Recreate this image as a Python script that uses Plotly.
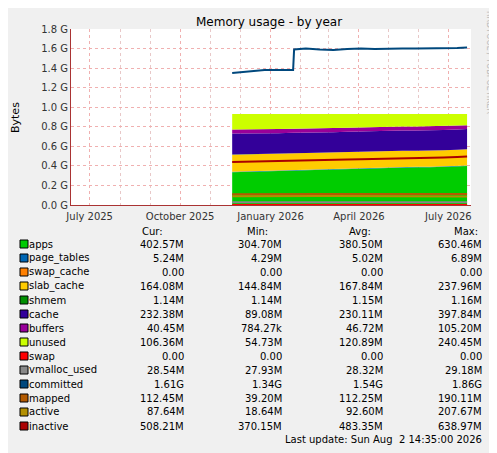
import plotly.graph_objects as go

# sample dates (approx every 2 weeks), values in MB unless noted
dates = ["2025-11-23", "2025-12-12", "2025-12-26", "2026-01-09", "2026-01-24", "2026-01-25",
         "2026-02-06", "2026-02-20", "2026-03-06", "2026-03-20", "2026-04-03", "2026-04-17",
         "2026-05-01", "2026-05-15", "2026-05-29", "2026-06-12", "2026-06-26", "2026-07-10", "2026-07-20"]
apps = [335, 340, 345, 350, 355, 355, 360, 365, 365, 370, 375, 375, 380, 385, 385, 385, 390, 395, 400]
page_tables = [5, 5, 5, 5, 5, 5, 5, 5, 5, 5, 5, 5, 5, 5, 5, 5, 5, 5, 5]
swap_cache = [0] * 19
slab_cache = [175, 172, 170, 168, 168, 168, 167, 166, 166, 165, 165, 165, 165, 165, 165, 165, 164, 164, 164]
shmem = [1] * 19
cache = [215, 213, 212, 211, 210, 210, 209, 208, 208, 207, 207, 206, 206, 205, 205, 206, 207, 207, 207]
buffers = [40, 40, 41, 41, 41, 41, 42, 42, 42, 42, 42, 42, 42, 42, 42, 42, 41, 40, 38]
unused = [159, 160, 156, 154, 150, 150, 147, 144, 144, 141, 136, 137, 132, 128, 128, 127, 123, 119, 116]
swap = [0] * 19
vmalloc_used = [28.5] * 19
committed = [1350, 1370, 1380, 1380, 1380, 1590, 1600, 1590, 1585, 1595, 1600, 1595, 1600, 1600, 1600, 1600, 1600, 1605, 1610]
mapped = [110, 112, 113, 112, 112, 112, 113, 112, 112, 112, 112, 113, 112, 112, 112, 112, 112, 112, 112]
active = [90, 92, 93, 92, 92, 92, 93, 92, 92, 92, 93, 92, 92, 92, 92, 92, 90, 88, 88]
inactive = [440, 445, 450, 452, 455, 455, 458, 460, 462, 465, 468, 470, 475, 478, 480, 482, 485, 490, 495]

names = ["apps", "page_tables", "swap_cache", "slab_cache", "shmem", "cache", "buffers", "unused",
         "swap", "vmalloc_used", "committed", "mapped", "active", "inactive"]
colors = ["#00CC00", "#0066B3", "#FF8000", "#FFCC00", "#008F00", "#330099", "#990099", "#CCFF00",
          "#FF0000", "#888888", "#00487D", "#B35A00", "#B38F00", "#AA0000"]
cur = ["402.57M", "5.24M", "0.00", "164.08M", "1.14M", "232.38M", "40.45M", "106.36M", "0.00", "28.54M", "1.61G", "112.45M", "87.64M", "508.21M"]
mins = ["304.70M", "4.29M", "0.00", "144.84M", "1.14M", "89.08M", "784.27k", "54.73M", "0.00", "27.93M", "1.34G", "39.20M", "18.64M", "370.15M"]
avgs = ["380.50M", "5.02M", "0.00", "167.84M", "1.15M", "230.11M", "46.72M", "120.89M", "0.00", "28.32M", "1.54G", "112.25M", "92.60M", "483.35M"]
maxs = ["630.46M", "6.89M", "0.00", "237.96M", "1.16M", "397.84M", "105.20M", "240.45M", "0.00", "29.18M", "1.86G", "190.11M", "207.67M", "638.97M"]

series = [apps, page_tables, swap_cache, slab_cache, shmem, cache, buffers, unused,
          swap, vmalloc_used, committed, mapped, active, inactive]

fig = go.Figure()
for i, (n, c, s) in enumerate(zip(names, colors, series)):
    ys = [v * 1e6 for v in s]
    if i < 8:
        fig.add_trace(go.Scatter(x=dates, y=ys, name=n, stackgroup="mem", mode="lines",
                                 line=dict(width=0, color=c), fillcolor=c))
    else:
        fig.add_trace(go.Scatter(x=dates, y=ys, name=n, mode="lines", line=dict(width=2, color=c)))

F = "DejaVu Sans"
# plot box in reference pixels; DX/DY compensate the page offset seen in the render
L, R, T, B = 67, 467, 27, 203
DX, DY = 4, 6
def px(x): return (x - L) / (R - L)
def py(y): return (B - y) / (B - T)

ann = [
    dict(x=px(265), y=py(20), text="Memory usage - by year", font=dict(size=12, color="#000")),
    dict(x=px(11), y=py(115), text="Bytes", textangle=-90, font=dict(size=11, color="#000")),
    dict(x=px(486), y=py(60), text="RRDTOOL / TOBI OETIKER", textangle=90, font=dict(size=8, color="#BBBBBB")),
    dict(x=px(480), y=py(437), text="Last update: Sun Aug  2 14:35:00 2026", xanchor="right", font=dict(size=10, color="#000")),
]
for hx, h in [(148, "Cur:"), (253, "Min:"), (356, "Avg:"), (462, "Max:")]:
    ann.append(dict(x=px(hx), y=py(229), text=h, font=dict(size=10, color="#000")))
shapes = []
for i, n in enumerate(names):
    yy = 242 + i * 14
    shapes.append(dict(type="rect", xref="paper", yref="paper", x0=px(16), x1=px(24), y0=py(yy + 4), y1=py(yy - 4),
                       fillcolor=colors[i], line=dict(color="#000", width=1)))
    ann.append(dict(x=px(23), y=py(yy), text=n, xanchor="left", font=dict(size=10, color="#000")))
    for xr, v in [(182, cur[i]), (280, mins[i]), (381, avgs[i]), (480, maxs[i])]:
        ann.append(dict(x=px(xr), y=py(yy), text=v, xanchor="right", font=dict(size=10, color="#000")))
for a in ann:
    a.update(xref="paper", yref="paper", showarrow=False, yanchor="middle")
    a.setdefault("xanchor", "center")

fig.update_layout(
    width=497, height=453,
    margin=dict(l=L - DX, r=497 - R + DX, t=T - DY, b=453 - B + DY, pad=0, autoexpand=False),
    paper_bgcolor="#F0F0F0", plot_bgcolor="#FFFFFF", showlegend=False,
    font=dict(family=F, size=10, color="#333"),
    annotations=ann, shapes=shapes,
    xaxis=dict(range=["2025-06-12", "2026-07-24"], tickvals=["2025-07-01", "2025-10-01", "2026-01-01", "2026-04-01", "2026-07-01"],
               ticktext=["July 2025", "October 2025", "January 2026", "April 2026", "July 2026"],
               showgrid=True, gridcolor="#F0B0B0", griddash="dot", gridwidth=1,
               minor=dict(dtick="M1", showgrid=True, gridcolor="#E8C8C8", griddash="dot"),
               showline=True, linecolor="#AA3333", ticks="", zeroline=False, ticklabelstandoff=2),
    yaxis=dict(range=[0, 1.8e9], tickvals=[i * 2e8 for i in range(10)],
               ticktext=["%.1f G" % (i * 0.2) for i in range(10)],
               showgrid=True, gridcolor="#F0B0B0", griddash="dot",
               showline=True, linecolor="#AA3333", zeroline=False, ticks=""),
)
fig.write_html("out.html")
